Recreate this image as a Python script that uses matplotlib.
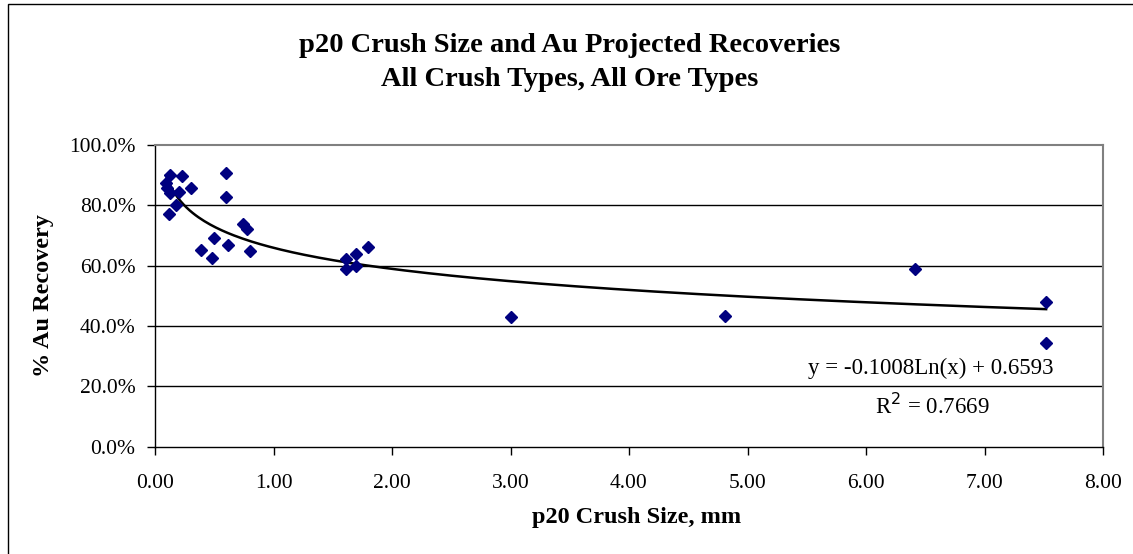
import matplotlib
matplotlib.use("Agg")
import matplotlib.pyplot as plt
import numpy as np
from matplotlib.patches import Rectangle
from matplotlib.ticker import FuncFormatter

# p20 crush size (mm) and projected Au recovery (%)
crush_mm = [0.13, 0.225, 0.093, 0.10, 0.30, 0.205, 0.127, 0.18, 0.12,
            0.60, 0.60, 0.745, 0.78, 0.50, 0.39, 0.62, 0.48, 0.80,
            1.61, 1.61, 1.70, 1.70, 1.80,
            3.00, 4.81, 6.41, 7.52, 7.52]
recovery_pct = [90.1, 89.7, 87.5, 85.7, 85.7, 84.5, 84.0, 80.1, 77.1,
                90.6, 82.9, 73.8, 72.1, 69.3, 65.2, 66.8, 62.6, 64.8,
                62.1, 58.9, 63.9, 60.0, 66.1,
                43.0, 43.3, 58.9, 47.9, 34.3]

# log trendline from the chart
slope = -0.1008
intercept = 0.6593
r2 = 0.7669

plt.rcParams['font.family'] = ['Liberation Serif', 'DejaVu Serif']

fig = plt.figure(figsize=(11.33, 5.54), dpi=100)
ax = fig.add_axes([155/1133, 1-446.7/554, (1103-155)/1133, (446.7-145)/554])

# outer chart border
fig.patches.append(Rectangle((8/1133, -0.1), 1.2, 1-4/554+0.1, transform=fig.transFigure,
                             fill=False, edgecolor='black', linewidth=1.0))

x = np.array(crush_mm)
xt = np.linspace(x.min(), x.max(), 300)
yt = (slope*np.log(xt) + intercept)*100

for g in [20, 40, 60, 80]:
    ax.axhline(g, color='black', linewidth=1.0, zorder=1)
ax.plot(xt, yt, color='black', linewidth=1.8, zorder=2)
ax.plot(crush_mm, recovery_pct, linestyle='none', marker='D', markersize=6,
        color='#000080', zorder=3)

ax.set_xlim(0, 8)
ax.set_ylim(0, 100)
ax.set_xticks(np.arange(0, 9, 1))
ax.set_yticks(np.arange(0, 101, 20))
ax.xaxis.set_major_formatter(FuncFormatter(lambda v, p: f"{v:.2f}"))
ax.yaxis.set_major_formatter(FuncFormatter(lambda v, p: f"{v:.1f}%"))
ax.tick_params(direction='out', length=6, width=1, labelsize=15.5, colors='black', pad=8)
ax.tick_params(axis='x', pad=14)

for s in ['top', 'right']:
    ax.spines[s].set_color('#808080')
    ax.spines[s].set_linewidth(1.5)
for s in ['left', 'bottom']:
    ax.spines[s].set_color('black')
    ax.spines[s].set_linewidth(1.0)

fig.text(570/1133, 1-45/554, "p20 Crush Size and Au Projected Recoveries", ha='center', va='center',
         fontsize=20.5, fontweight='bold')
fig.text(570/1133, 1-79/554, "All Crush Types, All Ore Types", ha='center', va='center',
         fontsize=20.5, fontweight='bold')
fig.text(637/1133, 1-518/554, "p20 Crush Size, mm", ha='center', va='center',
         fontsize=17.5, fontweight='bold')
fig.text(44/1133, 1-296/554, "% Au Recovery", ha='center', va='center', rotation=90,
         fontsize=17.5, fontweight='bold')

fig.text(931/1133, 1-368/554, f"y = {slope:.4f}Ln(x) + {intercept:.4f}", ha='center', va='center',
         fontsize=16.5)
fig.text(932/1133, 1-406/554, f"R$^2$ = {r2:.4f}", ha='center', va='center', fontsize=16.5)

fig.savefig("out.png", dpi=100)
